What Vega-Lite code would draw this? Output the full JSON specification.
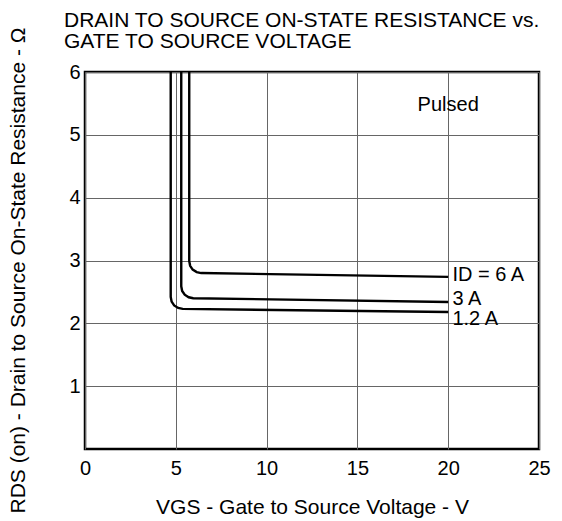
{
  "$schema": "https://vega.github.io/schema/vega-lite/v6.json",
  "width": 454,
  "height": 377,
  "autosize": "none",
  "padding": {"left": 85, "top": 72, "right": 23, "bottom": 72},
  "config": {
    "font": "Liberation Sans",
    "view": {"stroke": "black", "strokeWidth": 2.5},
    "axis": {
      "grid": true,
      "gridColor": "#666666",
      "gridWidth": 1,
      "domain": false,
      "ticks": false,
      "tickSize": 0,
      "labelFlush": false,
      "labelFont": "Liberation Sans",
      "labelFontSize": 20,
      "labelColor": "black",
      "titleFont": "Liberation Sans",
      "titleFontSize": 21,
      "titleFontWeight": "normal",
      "titleColor": "black"
    }
  },
  "title": {
    "text": ["DRAIN TO SOURCE ON-STATE RESISTANCE vs.", "GATE TO SOURCE VOLTAGE"],
    "anchor": "start",
    "frame": "group",
    "fontSize": 21,
    "fontWeight": "normal",
    "font": "Liberation Sans",
    "color": "black",
    "lineHeight": 21,
    "dx": -21,
    "offset": -25
  },
  "datasets": {
    "curves": [
      {"id": "6 A", "i": 0, "vgs": 5.74, "r": 6},
      {"id": "6 A", "i": 1, "vgs": 5.74, "r": 2.99},
      {"id": "6 A", "i": 2, "vgs": 5.79, "r": 2.915},
      {"id": "6 A", "i": 3, "vgs": 5.93, "r": 2.855},
      {"id": "6 A", "i": 4, "vgs": 6.15, "r": 2.815},
      {"id": "6 A", "i": 5, "vgs": 6.4, "r": 2.8},
      {"id": "6 A", "i": 6, "vgs": 20, "r": 2.74},
      {"id": "3 A", "i": 0, "vgs": 5.3, "r": 6},
      {"id": "3 A", "i": 1, "vgs": 5.3, "r": 2.59},
      {"id": "3 A", "i": 2, "vgs": 5.35, "r": 2.515},
      {"id": "3 A", "i": 3, "vgs": 5.49, "r": 2.455},
      {"id": "3 A", "i": 4, "vgs": 5.71, "r": 2.415},
      {"id": "3 A", "i": 5, "vgs": 5.96, "r": 2.4},
      {"id": "3 A", "i": 6, "vgs": 20, "r": 2.34},
      {"id": "1.2 A", "i": 0, "vgs": 4.72, "r": 6},
      {"id": "1.2 A", "i": 1, "vgs": 4.72, "r": 2.42},
      {"id": "1.2 A", "i": 2, "vgs": 4.77, "r": 2.345},
      {"id": "1.2 A", "i": 3, "vgs": 4.91, "r": 2.285},
      {"id": "1.2 A", "i": 4, "vgs": 5.13, "r": 2.245},
      {"id": "1.2 A", "i": 5, "vgs": 5.38, "r": 2.23},
      {"id": "1.2 A", "i": 6, "vgs": 20, "r": 2.18}
    ],
    "labels": [
      {"text": "ID = 6 A", "vgs": 20.23, "r": 2.77},
      {"text": "3 A", "vgs": 20.23, "r": 2.395},
      {"text": "1.2 A", "vgs": 20.23, "r": 2.076}
    ],
    "notes": [
      {"text": "Pulsed", "vgs": 20, "r": 5.48}
    ]
  },
  "layer": [
    {
      "data": {"name": "curves"},
      "mark": {"type": "line", "color": "black", "strokeWidth": 2.4},
      "encoding": {
        "x": {
          "field": "vgs",
          "type": "quantitative",
          "scale": {"domain": [0, 25], "nice": false, "zero": false},
          "axis": {
            "values": [0, 5, 10, 15, 20, 25],
            "format": "d",
            "labelPadding": 9,
            "title": "VGS - Gate to Source Voltage - V",
            "titleY": 47,
            "titleX": 227
          }
        },
        "y": {
          "field": "r",
          "type": "quantitative",
          "scale": {"domain": [0, 6], "nice": false, "zero": false},
          "axis": {
            "values": [1, 2, 3, 4, 5, 6],
            "format": "d",
            "labelPadding": 5,
            "title": "RDS (on) - Drain to Source On-State Resistance - Ω",
            "titleX": -57,
            "titleY": 198
          }
        },
        "detail": {"field": "id"},
        "order": {"field": "i"}
      }
    },
    {
      "data": {"name": "labels"},
      "mark": {"type": "text", "align": "left", "baseline": "middle", "fontSize": 20, "color": "black", "font": "Liberation Sans"},
      "encoding": {
        "x": {"field": "vgs", "type": "quantitative"},
        "y": {"field": "r", "type": "quantitative"},
        "text": {"field": "text"}
      }
    },
    {
      "data": {"name": "notes"},
      "mark": {"type": "text", "align": "center", "baseline": "middle", "fontSize": 20, "color": "black", "font": "Liberation Sans"},
      "encoding": {
        "x": {"field": "vgs", "type": "quantitative"},
        "y": {"field": "r", "type": "quantitative"},
        "text": {"field": "text"}
      }
    }
  ]
}
